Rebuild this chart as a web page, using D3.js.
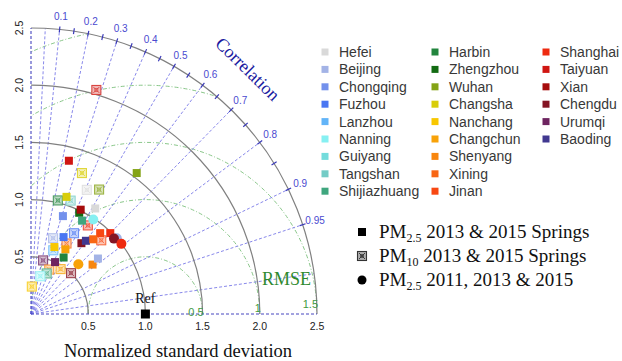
<!DOCTYPE html>
<html><head><meta charset="utf-8">
<script src="https://cdn.jsdelivr.net/npm/d3@7"></script>
<style>body{margin:0;background:#fff;}</style>
</head><body>
<svg id="c" width="622" height="361"></svg>
<script>
// ---------- DATA ----------
const cities = ["Hefei","Beijing","Chongqing","Fuzhou","Lanzhou","Nanning","Guiyang","Tangshan","Shijiazhuang",
  "Harbin","Zhengzhou","Wuhan","Changsha","Nanchang","Changchun","Shenyang","Xining","Jinan",
  "Shanghai","Taiyuan","Xian","Chengdu","Urumqi","Baoding"];
const cityColors = ["#d9d9d9","#a3b3e6","#7391ec","#4a76f2","#62b4f8","#86f0f2","#74dcdc","#74ccc6","#3fa67e",
  "#22853e","#136b13","#84a316","#d8cd0a","#f8c700","#f8a208","#f8860e","#f86614","#f84812",
  "#ee2a10","#d01612","#a60c0c","#841423","#6e2460","#413890"];

// PM2.5 2013 & 2015 Springs (filled squares): normalized SD and correlation
const pm25City = ["Taiyuan","Wuhan","Changsha","Zhengzhou","Xian","Hefei","Chongqing","Shijiazhuang","Fuzhou","Jinan",
  "Shanghai","Chengdu","Baoding","Xining","Nanchang","Changchun","Harbin","Urumqi","Shenyang","Beijing"];
const pm25Sd = [1.38,1.54,1.07,0.98,1.01,1.08,0.90,0.93,0.73,0.93,0.99,0.76,0.80,0.85,0.62,0.64,0.57,0.50,0.69,0.76];
const pm25R  = [0.24,0.60,0.29,0.43,0.43,0.52,0.31,0.48,0.39,0.65,0.70,0.58,0.60,0.64,0.33,0.47,0.50,0.42,0.78,0.77];

// PM10 2013 & 2015 Springs (crossed squares)
const pm10City = ["Taiyuan","Changsha","Hefei","Wuhan","Harbin","Tangshan","Shanghai","Beijing","Fuzhou","Jinan",
  "Xining","Lanzhou","Urumqi","Chengdu","Changchun","Shenyang","Shijiazhuang","Nanning","Nanchang"];
const pm10Sd = [2.04,1.31,1.19,1.24,1.02,1.05,0.92,0.69,0.80,0.89,0.69,0.59,0.48,0.50,0.47,0.42,0.38,0.34,0.24];
const pm10R  = [0.28,0.34,0.41,0.48,0.23,0.33,0.54,0.28,0.47,0.69,0.45,0.33,0.22,0.70,0.55,0.38,0.36,0.24,0.03];

// PM2.5 2011, 2013 & 2015 (circles)
const yrCity = ["Beijing","Nanning","Chengdu","Shanghai","Changchun"];
const yrSd = [1.00,0.99,0.98,1.00,0.60];
const yrR  = [0.75,0.55,0.74,0.79,0.69];

const corrLines = [0.05,0.1,0.2,0.3,0.4,0.5,0.6,0.7,0.8,0.9,0.95,0.99];
const corrLabels = [0.1,0.2,0.3,0.4,0.5,0.6,0.7,0.8,0.9,0.95];
const corrTicks = [0.15,0.25,0.35,0.45,0.55,0.65,0.75,0.85];
const sdArcs = [0.5,1.0,1.5,2.0,2.5];
const rmseArcs = [0.5,1.0,1.5,2.0,2.5];
const rmseLabels = ["0.5","1","1.5"];
const sdTicks = [0.5,1.0,1.5,2.0,2.5];
const symbolLegend = ["PM|2.5| 2013 & 2015 Springs","PM|10| 2013 & 2015 Springs","PM|2.5| 2011, 2013 & 2015"];

// ---------- DRAW ----------
const svg = d3.select("#c");
const ox = 31, oy = 314, R = 286;
const s = d3.scaleLinear().domain([0,2.5]).range([0,R]);
const colorOf = d3.scaleOrdinal().domain(cities).range(cityColors);
const pt = (sd, r) => [ox + s(sd*r), oy - s(sd*Math.sqrt(Math.max(0,1-r*r)))];
const blue = "#4a4ad0", green = "#3f9a3f";

svg.append("defs").append("clipPath").attr("id","quad")
  .append("path")
  .attr("d", `M${ox},${oy} L${ox+R},${oy} A${R},${R} 0 0 0 ${ox},${oy-R} Z`);

// RMSE arcs
const gr = svg.append("g").attr("clip-path","url(#quad)");
rmseArcs.forEach(r => {
  gr.append("circle").attr("cx", ox + s(1)).attr("cy", oy).attr("r", s(r))
    .attr("fill","none").attr("stroke","#7cbf7c").attr("stroke-width",0.9)
    .attr("stroke-dasharray","4,2,1,2");
});

// correlation lines
corrLines.forEach(c => {
  const [x,y] = pt(2.5, c);
  svg.append("line").attr("x1",ox).attr("y1",oy).attr("x2",x).attr("y2",y)
    .attr("stroke","#7a7ae8").attr("stroke-width",0.9).attr("stroke-dasharray","3,2");
});

// SD arcs
sdArcs.forEach(r => {
  svg.append("path")
    .attr("d", `M${ox+s(r)},${oy} A${s(r)},${s(r)} 0 0 0 ${ox},${oy-s(r)}`)
    .attr("fill","none").attr("stroke","#808080").attr("stroke-width",1.2);
});

// axes (dashed blue)
svg.append("line").attr("x1",ox).attr("y1",oy).attr("x2",ox+R).attr("y2",oy)
  .attr("stroke","#4646c0").attr("stroke-width",1.1).attr("stroke-dasharray","3,2");
svg.append("line").attr("x1",ox).attr("y1",oy).attr("x2",ox).attr("y2",oy-R)
  .attr("stroke","#4646c0").attr("stroke-width",1.1).attr("stroke-dasharray","3,2");

// ticks on outer arc
corrTicks.concat(corrLabels).forEach(c => {
  const a = Math.acos(c);
  svg.append("line")
    .attr("x1", ox + (R-3)*Math.cos(a)).attr("y1", oy - (R-3)*Math.sin(a))
    .attr("x2", ox + (R+3)*Math.cos(a)).attr("y2", oy - (R+3)*Math.sin(a))
    .attr("stroke", "#3838b8").attr("stroke-width",1.2);
});

// correlation labels
corrLabels.forEach(c => {
  const a = Math.acos(c), rr = R + 13;
  svg.append("text").attr("x", ox + rr*Math.cos(a)).attr("y", oy - rr*Math.sin(a))
    .attr("text-anchor","middle").attr("dominant-baseline","central")
    .attr("font-family","Liberation Sans, Arial, sans-serif").attr("font-size",10)
    .attr("fill", blue).text(c);
});

// "Correlation" title
{
  const ang = 48.5*Math.PI/180, rr = 327;
  const x = ox + rr*Math.cos(ang), y = oy - rr*Math.sin(ang);
  svg.append("text").attr("transform",`translate(${x},${y}) rotate(${90-48.5+3})`)
    .attr("text-anchor","middle").attr("dominant-baseline","central")
    .attr("font-family","Liberation Serif, Times New Roman, serif").attr("font-size",18)
    .attr("fill","#1a1aa0").text("Correlation");
}

// RMSE labels
rmseLabels.forEach((t,i) => {
  const r = rmseArcs[i];
  svg.append("text").attr("x", ox + s(1+r) + 1).attr("y", 316 - (r-0.5)*7.7)
    .attr("text-anchor","end").attr("font-family","Liberation Sans, Arial, sans-serif")
    .attr("font-size",11).attr("fill", green).text(t);
});
svg.append("text").attr("x",262).attr("y",285).attr("font-family","Liberation Serif, Times New Roman, serif")
  .attr("font-size",18).attr("fill","#2f8a2f").text("RMSE");

// tick labels
sdTicks.forEach(v => {
  svg.append("text").attr("x", ox + s(v)).attr("y", 330).attr("text-anchor","middle")
    .attr("font-family","Liberation Sans, Arial, sans-serif").attr("font-size",10.5)
    .attr("fill","#222").text(v.toFixed(1));
  svg.append("text").attr("transform",`translate(23,${oy - s(v)}) rotate(-90)`).attr("text-anchor","middle")
    .attr("font-family","Liberation Sans, Arial, sans-serif").attr("font-size",10.5)
    .attr("fill","#222").text(v.toFixed(1));
});
svg.append("text").attr("x",178).attr("y",357).attr("text-anchor","middle")
  .attr("font-family","Liberation Serif, Times New Roman, serif").attr("font-size",18.5)
  .attr("fill","#111").text("Normalized standard deviation");

// Ref
svg.append("text").attr("x", ox + s(1)).attr("y", 303).attr("text-anchor","middle")
  .attr("font-family","Liberation Serif, Times New Roman, serif").attr("font-size",14).attr("fill","#111").text("Ref");
svg.append("rect").attr("x", ox + s(1) - 4.5).attr("y", oy - 4.5).attr("width",9).attr("height",9).attr("fill","#000");

// markers
const mix = (c, t) => d3.interpolateRgb(c, "#fff")(t);
function crossSq(g, x, y, c, sz, dark) {
  const h = sz/2;
  const st = dark ? c : mix(c, 0.2);
  g.append("rect").attr("x",x-h).attr("y",y-h).attr("width",sz).attr("height",sz)
    .attr("fill", mix(c, dark ? 0.6 : 0.7)).attr("stroke", st).attr("stroke-width",1.1);
  g.append("path").attr("d",`M${x-h+1.5},${y-h+1.5}L${x+h-1.5},${y+h-1.5}M${x+h-1.5},${y-h+1.5}L${x-h+1.5},${y+h-1.5}`)
    .attr("stroke", st).attr("stroke-width",0.9);
  g.append("rect").attr("x",x-1.5).attr("y",y-1.5).attr("width",3).attr("height",3)
    .attr("fill","none").attr("stroke", st).attr("stroke-width",0.7);
}
const gp = svg.append("g");
pm10City.forEach((c,i) => { const [x,y] = pt(pm10Sd[i], pm10R[i]); crossSq(gp, x, y, colorOf(c), 9, false); });
pm25City.forEach((c,i) => {
  const [x,y] = pt(pm25Sd[i], pm25R[i]);
  gp.append("rect").attr("x",x-4).attr("y",y-4).attr("width",8).attr("height",8).attr("fill", colorOf(c));
});
yrCity.forEach((c,i) => {
  const [x,y] = pt(yrSd[i], yrR[i]);
  gp.append("circle").attr("cx",x).attr("cy",y).attr("r",5).attr("fill", colorOf(c));
});

// city legend
const colX = [325, 435, 546], rowY0 = 52, rowH = 17.4;
cities.forEach((c,i) => {
  const col = i < 9 ? 0 : (i < 18 ? 1 : 2);
  const row = i < 9 ? i : (i < 18 ? i-9 : i-18);
  const y = rowY0 + row*rowH;
  svg.append("rect").attr("x", colX[col]-3.5).attr("y", y-3.5).attr("width",7).attr("height",7).attr("fill", cityColors[i]);
  svg.append("text").attr("x", colX[col]+14).attr("y", y).attr("dominant-baseline","central")
    .attr("font-family","Liberation Sans, Arial, sans-serif").attr("font-size",14).attr("fill","#383838").text(c);
});

// symbol legend
const symY = [232, 256, 280];
symbolLegend.forEach((t,i) => {
  const y = symY[i], x = 362;
  if (i === 0) svg.append("rect").attr("x",x-4).attr("y",y-4).attr("width",8).attr("height",8).attr("fill","#000");
  if (i === 1) crossSq(svg, x, y, "#333", 9, true);
  if (i === 2) svg.append("circle").attr("cx",x).attr("cy",y).attr("r",4.5).attr("fill","#000");
  const parts = t.split("|");
  const tx = svg.append("text").attr("x",379).attr("y",y+6)
    .attr("font-family","Liberation Serif, Times New Roman, serif").attr("font-size",19).attr("fill","#111");
  tx.append("tspan").text(parts[0]);
  tx.append("tspan").attr("font-size",12).attr("dy",4).text(parts[1]);
  tx.append("tspan").attr("dy",-4).text(parts[2]);
});
</script>
</body></html>
